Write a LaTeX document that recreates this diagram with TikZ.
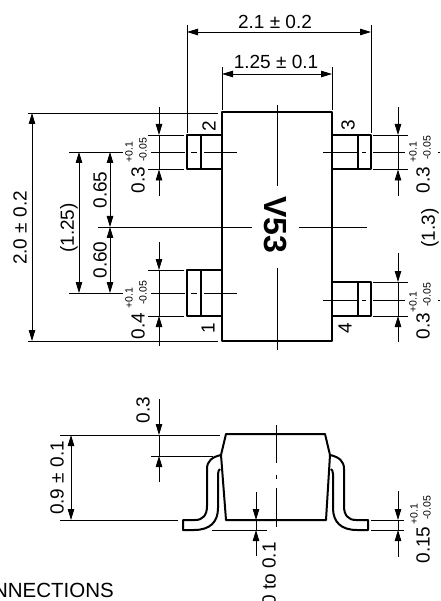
\documentclass[tikz,border=0pt]{standalone}
\usepackage{fontspec}
\setmainfont{Liberation Sans}
\usetikzlibrary{arrows.meta}
\tikzset{
	outline/.style={line width=2pt,line join=round},
	thinl/.style={line width=.8pt},
	dimarrow/.style={line width=.9pt,>={Triangle[length=11pt,width=6.5pt]}},
	lbl/.style={font=\fontsize{19}{20}\selectfont,inner sep=0pt},
	lblup/.style={lbl,rotate=90},
	tol/.style={font=\fontsize{10.5}{11}\selectfont,inner sep=0pt,rotate=90},
}
\begin{document}
\begin{tikzpicture}[x=1pt,y=-1pt]
	\useasboundingbox (0,0) rectangle (440,601);

	% top view
	\draw[outline] (222,112.5) rectangle (332,341);
	\draw[outline] (187,135) rectangle (222,169.5);
	\draw[outline] (201,135) -- (201,169.5);
	\draw[outline] (187,270) rectangle (222,316);
	\draw[outline] (201,270) -- (201,316);
	\draw[outline] (332,135) rectangle (371,169.5);
	\draw[outline] (358,135) -- (358,169.5);
	\draw[outline] (332,282) rectangle (371,316);
	\draw[outline] (358,282) -- (358,316);

	\node[lblup] (pintwo) at (209,126) {2};
	\node[lblup] (pinone) at (208,328) {1};
	\node[lblup] (pinthree) at (348,125) {3};
	\node[lblup] (pinfour) at (345,328) {4};
	\node[rotate=-90,inner sep=0pt,font=\fontsize{32}{32}\selectfont\bfseries] (mark) at (275,225) {V53};

	% centre lines
	\draw[thinl] (277,105) -- (277,186);
	\draw[thinl] (277,268) -- (277,350);
	\draw[thinl] (98,227) -- (252,227);
	\draw[thinl] (299,227) -- (367,227);
	\foreach \y in {152,293} {
		\draw[thinl] (151,\y) -- (185,\y);
		\draw[thinl] (191,\y) -- (197,\y);
		\draw[thinl] (204,\y) -- (237,\y);
	}
	\foreach \y in {152,300} {
		\draw[thinl] (323,\y) -- (357,\y);
		\draw[thinl] (362,\y) -- (366,\y);
		\draw[thinl] (373,\y) -- (405,\y);
		\draw[thinl] (438,\y) -- (440,\y);
	}

	% extension lines
	\draw[thinl] (187,25) -- (187,133);
	\draw[thinl] (371,25) -- (371,133);
	\draw[thinl] (222,67) -- (222,110);
	\draw[thinl] (332,67) -- (332,110);
	\draw[thinl] (28,113) -- (218,113);
	\draw[thinl] (28,341) -- (218,341);
	\draw[thinl] (69,152) -- (123,152);
	\draw[thinl] (69,293) -- (123,293);
	\foreach \y in {135,169.5,270,316} \draw[thinl] (148,\y) -- (184,\y);
	\foreach \y in {135,169.5,282,316} \draw[thinl] (373,\y) -- (408,\y);

	% dimensions
	\draw[dimarrow,<->] (187,32) -- (371,32);
	\node[lbl] (widthall) at (275,22) {2.1 ± 0.2};
	\draw[dimarrow,<->] (222,74) -- (332,74);
	\node[lbl] (widthbody) at (276,62) {1.25 ± 0.1};
	\draw[dimarrow,<->] (32,113) -- (32,341);
	\node[lblup] (heightbody) at (20,228) {2.0 ± 0.2};
	\draw[dimarrow,<->] (79,152) -- (79,293);
	\node[lblup] (pitchref) at (69,228) {(1.25)};
	\draw[dimarrow,<->] (110,152) -- (110,227);
	\node[lblup] (pitchup) at (100,190) {0.65};
	\draw[dimarrow,<->] (110,227) -- (110,293);
	\node[lblup] (pitchlow) at (100,260) {0.60};
	\node[lblup] (pitchright) at (430,228) {(1.3)};

	\draw[dimarrow,->] (159,107) -- (159,135);
	\draw[dimarrow,->] (159,196) -- (159,169.5);
	\draw[thinl] (159,135) -- (159,169.5);
	\node[lblup] (leadtwo) at (138,180) {0.3};
	\node[tol] (leadtwoa) at (129,152) {+0.1};
	\node[tol] (leadtwob) at (143,150) {-0.05};

	\draw[dimarrow,->] (159,242) -- (159,270);
	\draw[dimarrow,->] (159,346) -- (159,316);
	\draw[thinl] (159,270) -- (159,316);
	\node[lblup] (leadone) at (138,326) {0.4};
	\node[tol] (leadonea) at (129,298) {+0.1};
	\node[tol] (leadoneb) at (143,293) {-0.05};

	\draw[dimarrow,->] (398,107) -- (398,135);
	\draw[dimarrow,->] (398,196) -- (398,169.5);
	\draw[thinl] (398,135) -- (398,169.5);
	\node[lblup] (leadthree) at (423,180) {0.3};
	\node[tol] (leadthreea) at (413,152) {+0.1};
	\node[tol] (leadthreeb) at (427,148) {-0.05};

	\draw[dimarrow,->] (398,253) -- (398,282);
	\draw[dimarrow,->] (398,342) -- (398,316);
	\draw[thinl] (398,282) -- (398,316);
	\node[lblup] (leadfour) at (423,326) {0.3};
	\node[tol] (leadfoura) at (413,302) {+0.1};
	\node[tol] (leadfourb) at (427,295) {-0.05};

	% side view
	\draw[outline] (226,434) -- (325,434) -- (330,455) -- (326,520) -- (226,520) -- (221,455) -- cycle;
	\draw[outline] (330,455) .. controls (339,457) and (344,461) .. (344,469) -- (344,506)
		.. controls (344,515) and (348,520) .. (356,520) -- (368,520) -- (368,530) -- (357,530)
		.. controls (341,530) and (333,522) .. (333,508) -- (333,474) .. controls (333,471) and (332,470) .. (331,469);
	\draw[outline] (221,455) .. controls (212,457) and (207,461) .. (207,469) -- (207,506)
		.. controls (207,515) and (203,520) .. (195,520) -- (183,520) -- (183,530) -- (194,530)
		.. controls (210,530) and (218,522) .. (218,508) -- (218,474) .. controls (218,471) and (219,470) .. (220,469);
	\draw[thinl] (276,425) -- (276,463);
	\draw[thinl] (276,475) -- (276,479);
	\draw[thinl] (276,488) -- (276,527);

	\draw[thinl] (60,435) -- (220,435);
	\draw[thinl] (60,520) -- (178,520);
	\draw[thinl] (151,456) -- (213,456);
	\draw[thinl] (212,530) -- (267,530);
	\draw[thinl] (371,520) -- (404,520);
	\draw[thinl] (371,530) -- (404,530);

	\draw[dimarrow,<->] (71,435) -- (71,520);
	\node[lblup] (heightside) at (57,478) {0.9 ± 0.1};
	\draw[dimarrow,->] (159,399) -- (159,435);
	\draw[dimarrow,->] (159,482) -- (159,456);
	\draw[thinl] (159,435) -- (159,456);
	\node[lblup] (shoulder) at (143,410) {0.3};
	\draw[dimarrow,->] (256,492) -- (256,520);
	\draw[dimarrow,->] (256,556) -- (256,530);
	\draw[thinl] (256,520) -- (256,530);
	\node[lblup,anchor=east] (standoff) at (269,542) {0 to 0.1};
	\draw[dimarrow,->] (398,491) -- (398,520);
	\draw[dimarrow,->] (398,557) -- (398,530);
	\draw[thinl] (398,520) -- (398,530);
	\node[lblup] (leadthick) at (423,545) {0.15};
	\node[tol] (leadthicka) at (414,514) {+0.1};
	\node[tol] (leadthickb) at (427,508) {-0.05};

	\node[lbl,font=\fontsize{20.5}{21}\selectfont,anchor=base east] (title) at (114,597) {NNECTIONS};
\end{tikzpicture}
\end{document}
